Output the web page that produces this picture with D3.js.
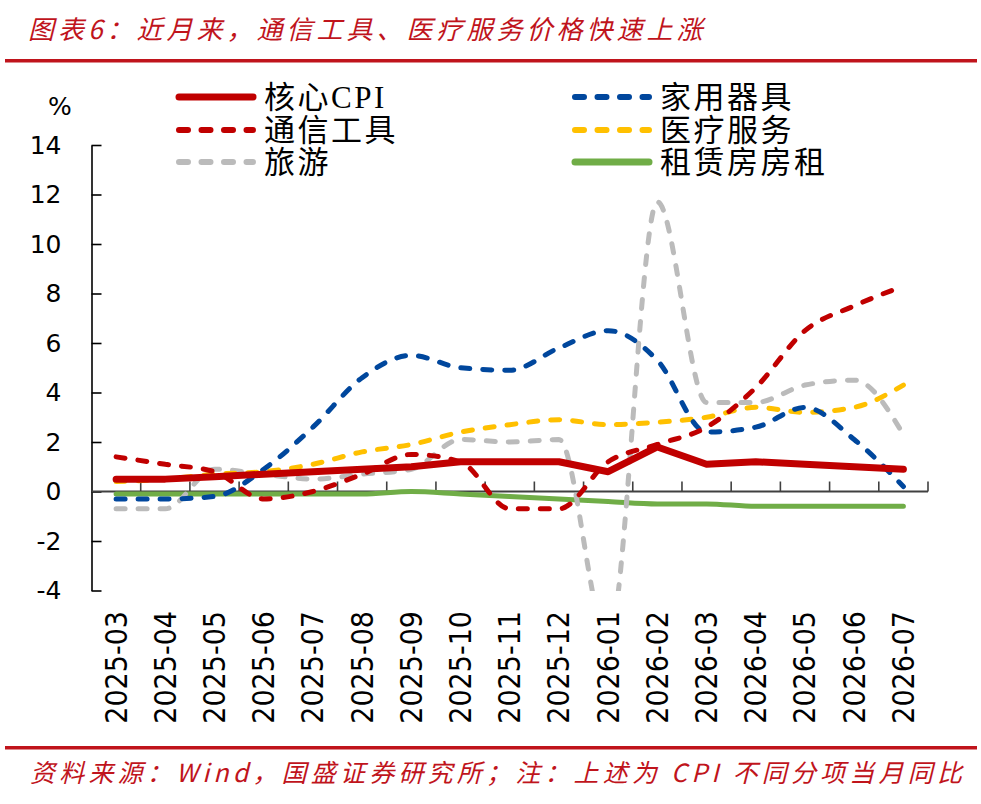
<!DOCTYPE html>
<html><head><meta charset="utf-8">
<script src="https://cdn.jsdelivr.net/npm/d3@7/dist/d3.min.js"></script>
<style>
html,body{margin:0;padding:0;background:#fff;}
svg{display:block;}
</style></head>
<body>
<svg id="chart" width="981" height="804"></svg>
<script>
const categories = ["2025-03","2025-04","2025-05","2025-06","2025-07","2025-08","2025-09","2025-10","2025-11","2025-12","2026-01","2026-02","2026-03","2026-04","2026-05","2026-06","2026-07"];
const coreCPI   = [0.5,0.5,0.6,0.7,0.8,0.9,1.0,1.2,1.2,1.2,0.8,1.8,1.1,1.2,1.1,1.0,0.9];
const appliances= [-0.3,-0.3,-0.2,0.9,2.6,4.6,5.5,5.0,4.9,5.8,6.5,5.3,2.4,2.6,3.4,2.1,0.2];
const telecom   = [1.4,1.1,0.8,-0.3,0.0,0.7,1.5,1.2,-0.7,-0.7,1.2,1.9,2.6,4.2,6.5,7.5,8.3];
const medical   = [0.4,0.5,0.7,0.8,1.1,1.6,1.9,2.4,2.7,2.9,2.7,2.8,3.0,3.4,3.2,3.4,4.3];
const tourism   = [-0.7,-0.7,0.9,0.7,0.5,0.7,0.9,2.1,2.0,2.1,-6.0,11.7,3.6,3.6,4.3,4.5,2.3];
const rent      = [-0.1,-0.1,-0.1,-0.1,-0.1,-0.1,0.0,-0.1,-0.2,-0.3,-0.4,-0.5,-0.5,-0.6,-0.6,-0.6,-0.6];
const yTicks = [-4,-2,0,2,4,6,8,10,12,14];

const smooth = d3.curveMonotoneX;
const series = [
  {name:"核心CPI", values:coreCPI, color:"#C00000", width:7, dash:null, curve:d3.curveLinear, col:0, row:0},
  {name:"家用器具", values:appliances, color:"#00479D", width:5, dash:"9,13", curve:smooth, col:1, row:0},
  {name:"通信工具", values:telecom, color:"#C00000", width:5, dash:"9,13", curve:smooth, col:0, row:1},
  {name:"医疗服务", values:medical, color:"#FFC000", width:5, dash:"9,13", curve:smooth, col:1, row:1},
  {name:"旅游", values:tourism, color:"#BBBBBB", width:5, dash:"9,13", curve:smooth, col:0, row:2},
  {name:"租赁房房租", values:rent, color:"#70AD47", width:5, dash:null, curve:smooth, col:1, row:2}
];
const drawOrder = [5,4,3,1,2,0];

const svg = d3.select("#chart");
const red = "#C0141C";

// title and rules
svg.append("text").attr("x",28).attr("y",39)
  .attr("font-family","'Noto Sans CJK SC'").attr("font-size",26).attr("font-style","italic")
  .attr("letter-spacing",4).attr("fill",red)
  .text("图表6：近月来，通信工具、医疗服务价格快速上涨");
svg.append("rect").attr("x",5).attr("y",59).attr("width",972).attr("height",3.5).attr("fill",red);
svg.append("rect").attr("x",5).attr("y",746).attr("width",972).attr("height",3.5).attr("fill",red);
svg.append("text").attr("x",30).attr("y",782)
  .attr("font-family","'Noto Sans CJK SC'").attr("font-size",25).attr("font-style","italic")
  .attr("letter-spacing",4.2).attr("fill",red)
  .text("资料来源：Wind，国盛证券研究所；注：上述为 CPI 不同分项当月同比");

const x = d3.scaleBand().domain(categories).range([91.5, 928]);
const y = d3.scaleLinear().domain([-4, 14]).range([590.5, 145]);
const cx = c => x(c) + x.bandwidth()/2;

// y axis
const yAxis = d3.axisLeft(y).tickValues(yTicks).tickSizeInner(-10).tickSizeOuter(0).tickPadding(30).tickFormat(d => String(d));
const ga = svg.append("g").attr("transform","translate(91.5,0)").call(yAxis);
ga.select(".domain").attr("stroke","#000").attr("stroke-width",1.6);
ga.selectAll(".tick line").attr("stroke","#000").attr("stroke-width",1.6);
ga.selectAll(".tick text").attr("font-family","'DejaVu Sans'").attr("font-size",25).attr("fill","#000");

svg.append("text").attr("x",60).attr("y",106).attr("text-anchor","middle").attr("dominant-baseline","central")
  .attr("font-family","'DejaVu Sans'").attr("font-size",25).text("%");

// x axis at zero
const y0 = y(0);
const gx = svg.append("g");
gx.append("line").attr("x1",x.range()[0]).attr("x2",x.range()[1]).attr("y1",y0).attr("y2",y0)
  .attr("stroke","#404040").attr("stroke-width",1.8);
const bounds = categories.slice(1).map(c => x(c)).concat([x.range()[1]]);
gx.selectAll("line.tk").data(bounds).enter().append("line").attr("class","tk")
  .attr("x1",d=>d).attr("x2",d=>d).attr("y1",y0).attr("y2",y0-10)
  .attr("stroke","#404040").attr("stroke-width",1.6);
gx.selectAll("text").data(categories).enter().append("text")
  .attr("transform",d=>`translate(${cx(d)},611) rotate(-90)`)
  .attr("text-anchor","end").attr("dominant-baseline","central")
  .attr("font-family","'DejaVu Sans Condensed','DejaVu Sans'").attr("font-stretch","condensed").attr("font-size",30)
  .attr("fill","#000").text(d=>d);

// clip
svg.append("clipPath").attr("id","plot").append("rect").attr("x",91.5).attr("y",100).attr("width",840).attr("height",491);

const g = svg.append("g").attr("clip-path","url(#plot)");
drawOrder.forEach(i => {
  const s = series[i];
  const line = d3.line().x((d,j)=>cx(categories[j])).y(d=>y(d)).curve(s.curve);
  g.append("path").attr("d", line(s.values)).attr("fill","none")
    .attr("stroke", s.color).attr("stroke-width", s.width)
    .attr("stroke-linecap","round").attr("stroke-linejoin","round")
    .attr("stroke-dasharray", s.dash);
});

// legend
const lg = svg.append("g");
const colX = [176, 572], rowY = [97, 130, 162];
series.forEach(s => {
  const lx = colX[s.col], ly = rowY[s.row];
  lg.append("line").attr("x1",lx+3).attr("x2",lx+77).attr("y1",ly).attr("y2",ly)
    .attr("stroke",s.color).attr("stroke-width", s.dash ? 6 : 7)
    .attr("stroke-linecap","round").attr("stroke-dasharray", s.dash ? "9,13.5" : null);
  lg.append("text").attr("x",lx+88).attr("y",ly).attr("dominant-baseline","central")
    .attr("font-family","'Liberation Serif','Noto Sans CJK SC'").attr("font-size",31)
    .attr("letter-spacing",2.5).attr("fill","#000").text(s.name);
});
</script>
</body></html>
